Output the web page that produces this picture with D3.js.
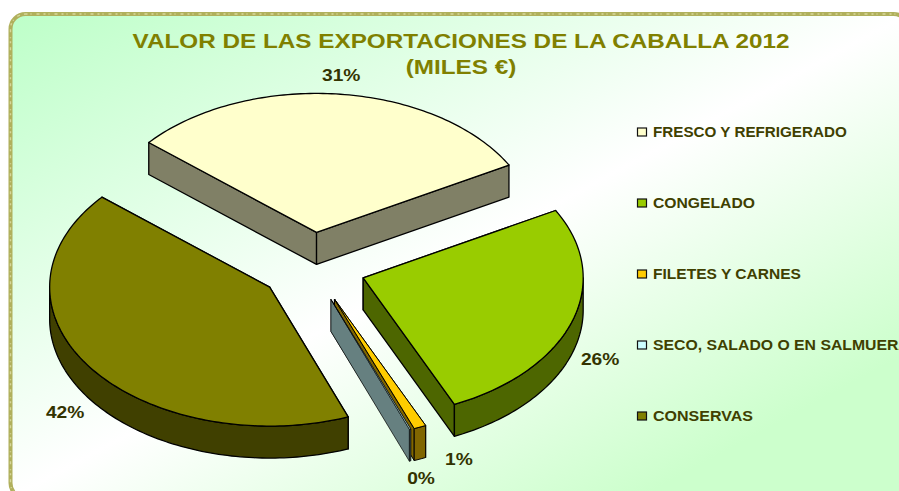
<!DOCTYPE html>
<html><head><meta charset="utf-8">
<script src="https://cdn.jsdelivr.net/npm/d3@7"></script>
<style>html,body{margin:0;padding:0;background:#fff;overflow:hidden}svg{display:block}text{font-family:"Liberation Sans",Arial,sans-serif;font-weight:bold}</style>
</head><body><svg id="c" width="899" height="491"></svg>
<script>
const categories = ["FRESCO Y REFRIGERADO","CONGELADO","FILETES Y CARNES","SECO, SALADO O EN SALMUERA","CONSERVAS"];
const values = [30.75, 26.25, 0.9, 0.1, 42];
const percentLabels = ["31%","26%","1%","0%","42%"];
const titleLines = ["VALOR DE LAS EXPORTACIONES DE LA CABALLA 2012","(MILES €)"];
const topColors = ["#FFFFCC","#99CC00","#FFCC00","#CCFFFF","#808000"];
const wallColors = ["#808066","#4D6600","#806600","#668080","#404000"];

const cx = 312.5, cy = 267, rx = 220, ry = 139, depth = 32, explodeX = 0.233, explodeY = 0.25;
const startDeg = -49.7;
// layout tuning: per-slice x nudge, stroke, label offsets, legend text widths
const sliceNudge = [-1,2,2,0,-1];
const sliceStroke = [1.3,1.3,1,0.7,1.3];
const labelOffsets = [[3,-19],[28,38],[39,32],[11,49],[-25,45]];
const legendWidths = [194,102,148,257,100];
const legendX = 637, legendYs = d3.scalePoint().domain(categories).range([132,416]);

const sx = d3.scaleLinear().domain([-1,1]).range([cx-rx,cx+rx]);
const sy = d3.scaleLinear().domain([-1,1]).range([cy+ry,cy-ry]);
const svg = d3.select("#c");
const defs = svg.append("defs");
const g = defs.append("linearGradient").attr("id","bg").attr("x1",0).attr("y1",0).attr("x2",1).attr("y2",1);
[[0,"#BDFFC8"],[0.5,"#FFFFFF"],[0.85,"#CCFFCC"],[1,"#CCFFCC"]].forEach(d=>g.append("stop").attr("offset",d[0]).attr("stop-color",d[1]));

const frame = {x:10.5,y:14,width:898,height:484,rx:15};
const addFrame = () => { const r = svg.append("rect"); Object.entries(frame).forEach(([k,v])=>r.attr(k,v)); return r; };
addFrame().attr("fill","url(#bg)").attr("stroke","#B0B05C").attr("stroke-width",4);
addFrame().attr("fill","none").attr("stroke","#D6D69A").attr("stroke-width",1.4).attr("stroke-dasharray","2 3 1 5 3 4");

svg.selectAll("text.title").data(titleLines).enter().append("text").attr("class","title")
  .attr("transform",(d,i)=>`translate(461,${48+i*26}) scale(1.157,1)`).attr("text-anchor","middle")
  .attr("font-size",21).attr("fill","#808000").text(d=>d);

const pie = d3.pie().sort(null).startAngle(startDeg*Math.PI/180).endAngle((startDeg+360)*Math.PI/180);
const arcs = pie(values);
const line = d3.line();
function slicePoints(d,i){
  const mid=(d.startAngle+d.endAngle)/2;
  const ox=sx(explodeX*Math.sin(mid))-cx+sliceNudge[i], oy=sy(explodeY*Math.cos(mid))-cy;
  const P=a=>[sx(Math.sin(a))+ox, sy(Math.cos(a))+oy];
  return {mid,apex:[cx+ox,cy+oy],P};
}
function sampled(a0,a1,P){
  const n=Math.max(2,Math.ceil(Math.abs(a1-a0)/0.02));
  return d3.range(n+1).map(i=>P(a0+(a1-a0)*i/n));
}
const drop=p=>[p[0],p[1]+depth];
const labels=svg.append("g");
const lay=svg.insert("g","g").attr("stroke","#000").attr("stroke-linejoin","round");
arcs.forEach((d,i)=>{
  const s=slicePoints(d,i);
  const sl=lay.append("g").attr("stroke-width",sliceStroke[i]);
  const a=s.P(d.startAngle),b=s.P(d.endAngle);
  [a,b].forEach(p=>{
    sl.append("path").attr("d",line([s.apex,p,drop(p),drop(s.apex)])+"Z").attr("fill",wallColors[i]);
  });
  const lo=Math.max(d.startAngle,Math.PI/2),hi=Math.min(d.endAngle,Math.PI*1.5);
  if(hi>lo){
    const top=sampled(lo,hi,s.P);
    sl.append("path").attr("d",line(top.concat(top.map(drop).reverse()))+"Z").attr("fill",wallColors[i]);
  }
  sl.append("path").attr("d",line([s.apex].concat(sampled(d.startAngle,d.endAngle,s.P)))+"Z").attr("fill",topColors[i]);
  const m=s.P(s.mid);
  labels.append("text").attr("transform",`translate(${m[0]+labelOffsets[i][0]},${m[1]+labelOffsets[i][1]+5.5}) scale(1.2,1)`)
    .attr("text-anchor","middle").attr("font-size",16).attr("fill","#333300").text(percentLabels[i]);
});

const leg=svg.selectAll("g.leg").data(categories).enter().append("g").attr("class","leg")
  .attr("transform",d=>`translate(${legendX},${legendYs(d)})`);
leg.append("rect").attr("x",0.5).attr("y",-4).attr("width",9).attr("height",8)
  .attr("fill",(d,i)=>topColors[i]).attr("stroke","#111").attr("stroke-width",1.2);
leg.append("text").attr("font-size",14).attr("fill","#404000").text(d=>d)
  .attr("transform",function(d,i){return `translate(16,4.5) scale(${legendWidths[i]/this.getComputedTextLength()},1)`;});
</script></body></html>
